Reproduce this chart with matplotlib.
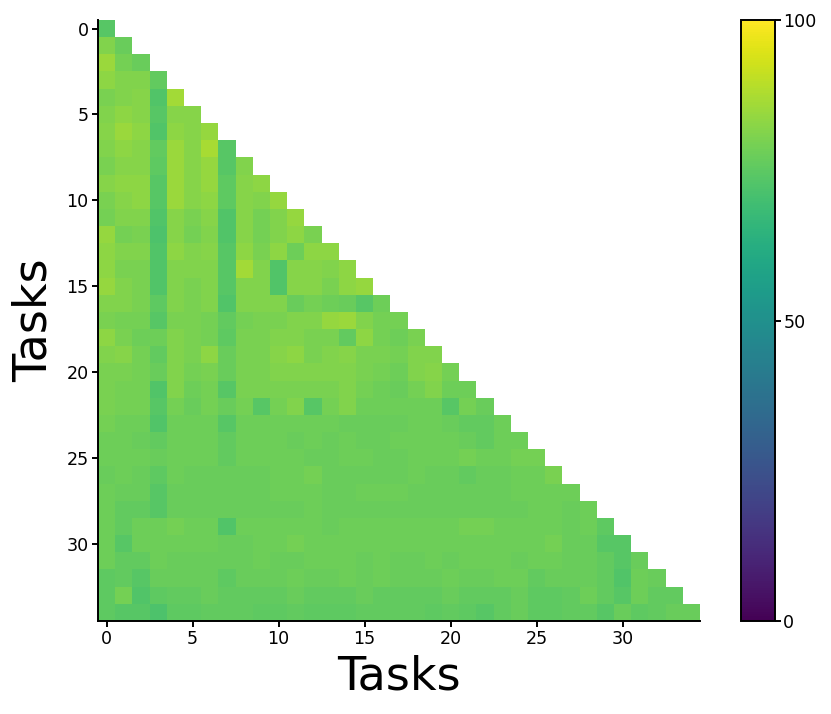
import numpy as np
import matplotlib
matplotlib.use('Agg')
import matplotlib.pyplot as plt

acc_rows = [
    [74],
    [81, 77],
    [85, 79, 77],
    [83, 81, 81, 76],
    [80, 81, 82, 73, 86],
    [81, 83, 82, 74, 82, 82],
    [82, 85, 83, 73, 83, 82, 84],
    [81, 83, 82, 76, 85, 82, 87, 74],
    [80, 82, 82, 75, 85, 82, 84, 74, 81],
    [82, 83, 83, 74, 85, 82, 84, 75, 82, 83],
    [80, 82, 83, 74, 85, 82, 83, 75, 82, 81, 84],
    [79, 81, 81, 73, 82, 80, 82, 73, 82, 79, 81, 84],
    [84, 79, 80, 72, 82, 79, 81, 73, 82, 79, 81, 83, 80],
    [83, 81, 81, 73, 83, 81, 82, 74, 83, 80, 83, 78, 83, 83],
    [83, 80, 80, 73, 81, 81, 81, 74, 86, 81, 73, 82, 82, 81, 83],
    [84, 81, 80, 73, 81, 80, 81, 74, 81, 81, 73, 82, 82, 80, 83, 84],
    [81, 81, 80, 75, 81, 80, 81, 73, 81, 81, 81, 77, 79, 78, 77, 74, 78],
    [80, 79, 79, 74, 80, 80, 79, 76, 79, 80, 80, 81, 81, 84, 85, 81, 79, 79],
    [83, 80, 78, 78, 81, 80, 79, 75, 80, 80, 81, 81, 80, 80, 76, 83, 79, 78, 80],
    [81, 82, 79, 76, 81, 80, 83, 77, 80, 80, 82, 83, 80, 81, 82, 80, 80, 79, 81, 81],
    [80, 80, 79, 77, 81, 79, 80, 77, 80, 80, 81, 81, 81, 81, 81, 80, 79, 78, 81, 82, 79],
    [80, 79, 79, 73, 81, 78, 79, 74, 80, 80, 80, 80, 80, 80, 81, 79, 78, 77, 79, 81, 78, 78],
    [80, 79, 79, 74, 79, 77, 79, 77, 79, 74, 79, 81, 74, 79, 81, 78, 78, 78, 78, 78, 74, 79, 77],
    [79, 78, 78, 73, 78, 78, 78, 74, 78, 78, 78, 78, 78, 78, 77, 77, 77, 77, 78, 78, 77, 76, 76, 78],
    [78, 78, 77, 76, 78, 78, 78, 76, 78, 78, 78, 77, 78, 77, 78, 77, 77, 78, 78, 78, 78, 77, 76, 78, 78],
    [78, 78, 78, 77, 78, 78, 78, 76, 78, 78, 78, 78, 77, 77, 78, 78, 77, 77, 78, 78, 78, 79, 78, 78, 79, 79],
    [77, 78, 77, 75, 78, 77, 77, 77, 77, 77, 78, 78, 79, 77, 77, 77, 77, 77, 78, 77, 77, 76, 77, 77, 78, 78, 80],
    [78, 77, 77, 74, 77, 77, 77, 77, 77, 77, 78, 78, 78, 77, 77, 78, 78, 78, 77, 77, 77, 77, 77, 77, 78, 78, 78, 78],
    [78, 76, 76, 74, 77, 77, 77, 77, 77, 77, 77, 77, 78, 77, 77, 77, 77, 77, 77, 77, 77, 77, 77, 77, 77, 78, 78, 77, 78],
    [78, 76, 78, 78, 79, 78, 78, 73, 78, 78, 78, 78, 78, 77, 78, 78, 78, 78, 78, 78, 78, 79, 79, 78, 78, 78, 78, 77, 78, 75],
    [78, 74, 78, 78, 78, 78, 78, 77, 77, 78, 78, 79, 78, 78, 78, 78, 78, 78, 78, 78, 78, 78, 78, 78, 78, 78, 79, 77, 77, 74, 74],
    [78, 76, 76, 78, 77, 77, 77, 77, 77, 78, 77, 77, 78, 78, 78, 77, 78, 77, 77, 78, 77, 78, 78, 78, 77, 78, 78, 77, 77, 76, 74, 77],
    [75, 76, 74, 77, 77, 77, 77, 75, 77, 77, 77, 78, 77, 77, 78, 77, 78, 77, 77, 77, 78, 77, 77, 78, 78, 76, 77, 77, 77, 76, 73, 78, 77],
    [75, 79, 73, 75, 76, 76, 77, 76, 76, 76, 76, 77, 76, 76, 76, 77, 76, 76, 76, 76, 77, 76, 76, 76, 77, 75, 75, 76, 78, 76, 74, 78, 76, 76],
    [75, 74, 74, 72, 75, 75, 76, 76, 76, 75, 75, 76, 75, 75, 75, 76, 76, 76, 76, 75, 76, 75, 74, 76, 77, 75, 75, 76, 76, 74, 77, 75, 76, 77, 77],
]
xticks = [0, 5, 10, 15, 20, 25, 30]
yticks = [0, 5, 10, 15, 20, 25, 30]
cbar_ticks = [0, 50, 100]

n = len(acc_rows)
acc = np.full((n, n), np.nan)
for i, row in enumerate(acc_rows):
    acc[i, :len(row)] = row

W, H = 831, 714
fig = plt.figure(figsize=(W/200, H/200), dpi=200)
ax = fig.add_axes([98/W, 1-621/H, 602/W, 601/H])
im = ax.imshow(np.ma.masked_invalid(acc), cmap='viridis', vmin=0, vmax=100, aspect='auto')
ax.spines['top'].set_visible(False)
ax.spines['right'].set_visible(False)
ax.set_xticks(xticks)
ax.set_yticks(yticks)
ax.tick_params(labelsize=6.3, width=0.7, length=2.2, pad=1.2)
for s in ax.spines.values():
    s.set_linewidth(0.7)
ax.set_xlabel('Tasks', fontsize=16.6, labelpad=2.2)
ax.set_ylabel('Tasks', fontsize=16.6, labelpad=3.5)

cax = fig.add_axes([741/W, 1-621/H, 34/W, 601/H])
cb = fig.colorbar(im, cax=cax, ticks=cbar_ticks)
cb.ax.tick_params(labelsize=6.3, width=0.7, length=2.2, pad=0.8)
cb.outline.set_linewidth(0.7)

fig.savefig('out.png', dpi=200)
